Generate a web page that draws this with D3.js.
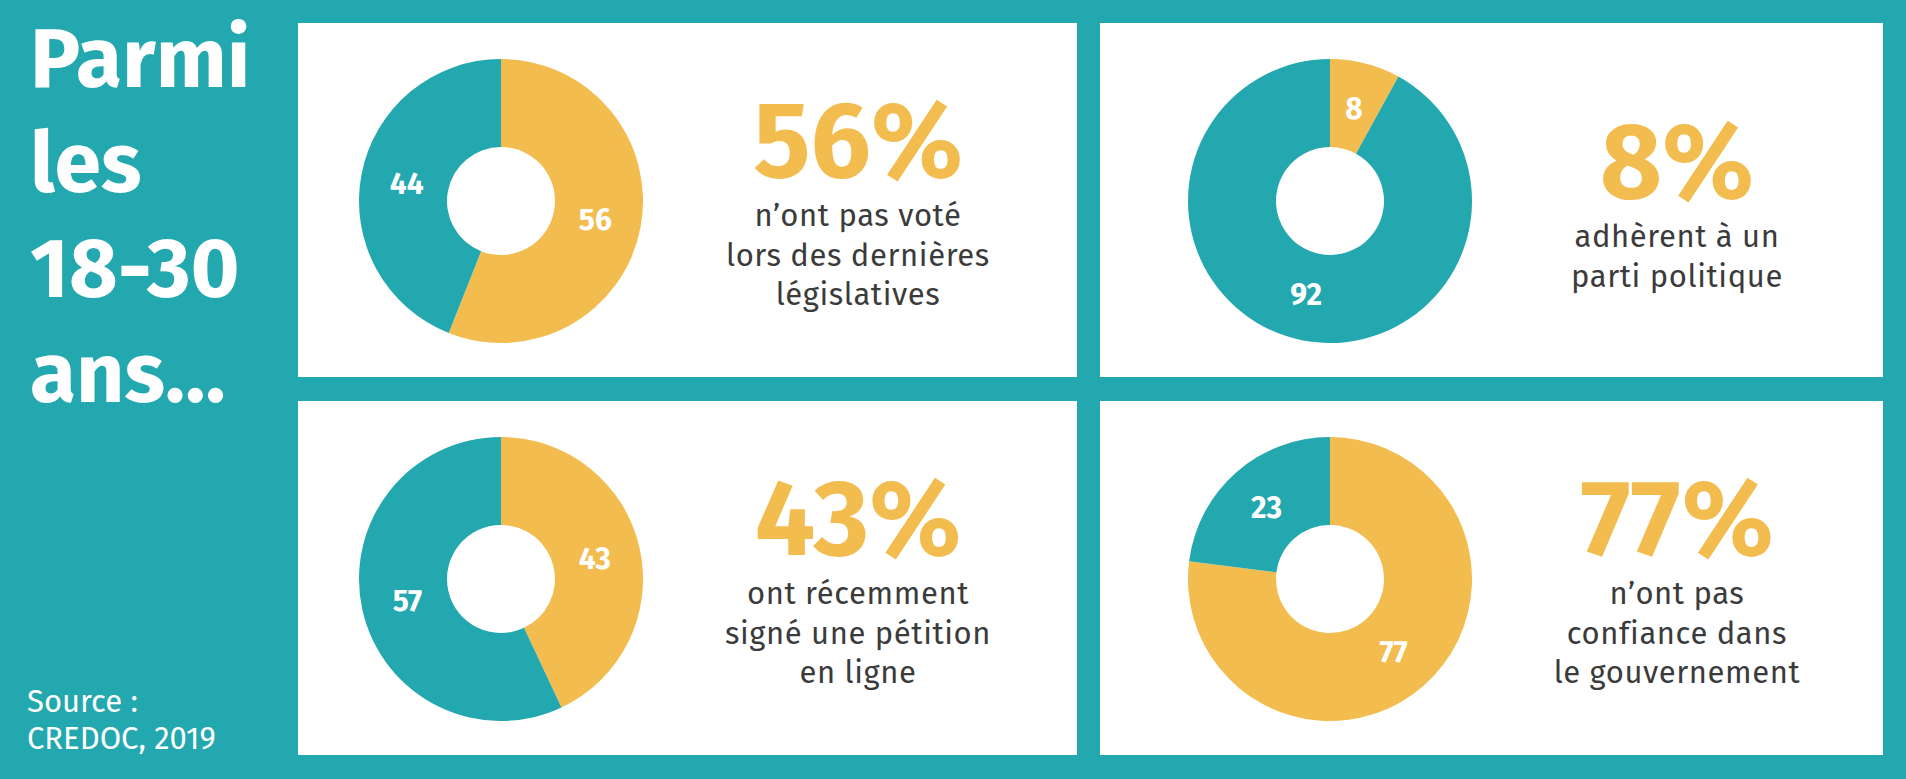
<!DOCTYPE html>
<html>
<head>
<meta charset="utf-8">
<script src="https://cdn.jsdelivr.net/npm/d3@7"></script>
<style>
  html, body { margin: 0; padding: 0; background: #22a8ae; }
  svg { display: block; }
</style>
</head>
<body>
<div id="chart"></div>
<script>
// ---- data ----
const titleLines = ["Parmi", "les", "18-30", "ans..."];
const sourceLines = ["Source :", "CREDOC, 2019"];
const yellowValues = [56, 8, 43, 77];
const tealValues = [44, 92, 57, 23];
const headlines = ["56%", "8%", "43%", "77%"];
const captions = [
  ["n’ont pas voté", "lors des dernières", "législatives"],
  ["adhèrent à un", "parti politique"],
  ["ont récemment", "signé une pétition", "en ligne"],
  ["n’ont pas", "confiance dans", "le gouvernement"]
];

// ---- style / layout ----
const W = 1906, H = 779;
const TEAL = "#22a8ae", YELLOW = "#f2bc4e", DARK = "#3b3b3b";
const FONT = "'Fira Sans', Roboto, 'Open Sans', sans-serif";
const colX = [298, 1100], colW = [779, 783];
const rowY = [23, 401], rowH = 354;
const donutDX = [203, 230], donutDY = 178;
const textDX = [560, 577];
const rOuter = 142, rInner = 54;

const svg = d3.select("#chart").append("svg")
  .attr("width", W).attr("height", H);

svg.append("rect").attr("width", W).attr("height", H).attr("fill", TEAL);

// title
const title = svg.append("text")
  .attr("fill", "#fff")
  .attr("font-family", FONT)
  .attr("font-weight", 700)
  .attr("font-size", 84);
title.selectAll("tspan").data(titleLines).join("tspan")
  .attr("x", 30)
  .attr("y", (d, i) => 87 + i * 105)
  .text(d => d);

// source
const src = svg.append("text")
  .attr("fill", "#fff")
  .attr("font-family", FONT)
  .attr("font-weight", 400)
  .attr("font-size", 31);
src.selectAll("tspan").data(sourceLines).join("tspan")
  .attr("x", 27)
  .attr("y", (d, i) => 712 + i * 37)
  .text(d => d);

const pie = d3.pie().sort(null).value(d => d.v);
const arc = d3.arc().innerRadius(rInner).outerRadius(rOuter);
const labelArc = d3.arc().innerRadius(rInner + 42).outerRadius(rOuter - 46);

yellowValues.forEach((yv, i) => {
  const col = i % 2, row = Math.floor(i / 2);
  const px = colX[col], py = rowY[row];
  const g = svg.append("g").attr("transform", `translate(${px},${py})`);
  g.append("rect").attr("width", colW[col]).attr("height", rowH).attr("fill", "#fff");

  const data = [{ v: yv, c: YELLOW }, { v: tealValues[i], c: TEAL }];
  const dg = g.append("g").attr("transform", `translate(${donutDX[col]},${donutDY})`);
  const arcs = pie(data);
  dg.selectAll("path").data(arcs).join("path")
    .attr("d", arc).attr("fill", d => d.data.c);
  dg.selectAll("text").data(arcs).join("text")
    .attr("transform", d => `translate(${labelArc.centroid(d)})`)
    .attr("text-anchor", "middle")
    .attr("dy", "0.36em")
    .attr("fill", "#fff")
    .attr("font-family", FONT)
    .attr("font-weight", 700)
    .attr("font-size", 30)
    .text(d => d.data.v);

  const n = captions[i].length;
  const shift = (3 - n) * 21;
  const tx = textDX[col];
  g.append("text")
    .attr("x", tx).attr("y", 154 + shift)
    .attr("text-anchor", "middle")
    .attr("fill", YELLOW)
    .attr("font-family", FONT)
    .attr("font-weight", 700)
    .attr("font-size", 107)
    .text(headlines[i]);
  const cap = g.append("text")
    .attr("text-anchor", "middle")
    .attr("fill", DARK)
    .attr("font-family", FONT)
    .attr("font-weight", 400)
    .attr("font-size", 31)
    .attr("letter-spacing", 0.6);
  cap.selectAll("tspan").data(captions[i]).join("tspan")
    .attr("x", tx)
    .attr("y", (d, j) => 203 + shift + j * 39.5)
    .text(d => d);
});
</script>
</body>
</html>
